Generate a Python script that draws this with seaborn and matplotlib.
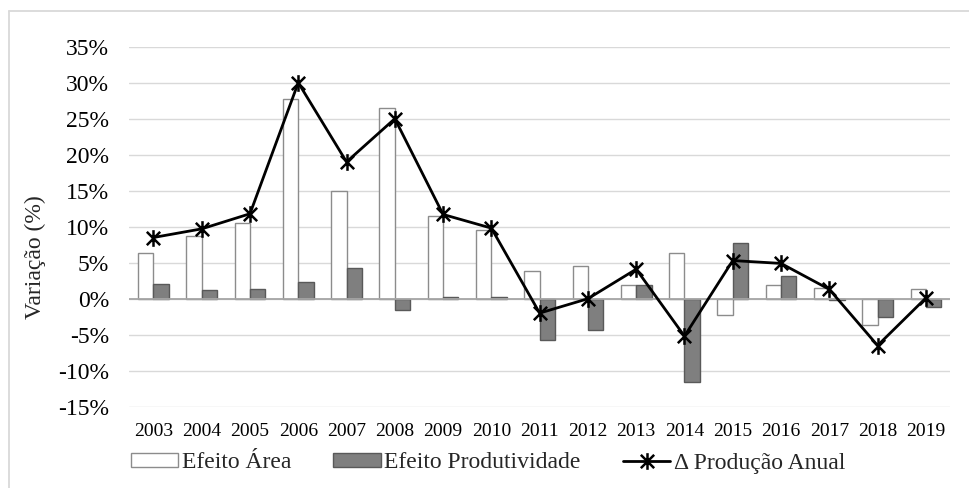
import numpy as np
import pandas as pd
import matplotlib
matplotlib.use("Agg")
import matplotlib.pyplot as plt
from matplotlib.path import Path
from matplotlib.patches import Patch
from matplotlib.lines import Line2D
import seaborn as sns

# Annual decomposition of production change (%)
years = [str(y) for y in range(2003, 2020)]
efeito_area = [6.4, 8.7, 10.5, 27.8, 14.9, 26.5, 11.5, 9.5, 3.9, 4.5, 1.9, 6.3, -2.3, 1.9, 1.5, -3.7, 1.3]
efeito_prod = [2.1, 1.2, 1.3, 2.3, 4.2, -1.5, 0.2, 0.2, -5.8, -4.4, 1.9, -11.5, 7.7, 3.1, -0.2, -2.6, -1.2]
delta_producao = [8.5, 9.7, 11.8, 30.0, 19.0, 25.0, 11.7, 9.8, -2.0, 0.0, 4.1, -5.2, 5.3, 4.9, 1.3, -6.5, 0.1]

lab_area = "Efeito Área"
lab_prod = "Efeito Produtividade"
lab_delta = "Δ Produção Anual"
y_ticks = [-15, -10, -5, 0, 5, 10, 15, 20, 25, 30, 35]

sns.set_theme(style="white")
plt.rcParams["font.family"] = ["Liberation Serif", "DejaVu Serif"]

bars = pd.DataFrame({
    "ano": years * 2,
    "valor": efeito_area + efeito_prod,
    "efeito": [lab_area] * len(years) + [lab_prod] * len(years),
})

fig = plt.figure(figsize=(9.69, 4.88), dpi=100)
W, H = 969, 488
ax = fig.add_axes([129.3 / W, 1 - 406.7 / H, (950 - 129.3) / W, (406.7 - 46.7) / H])

sns.barplot(data=bars, x="ano", y="valor", hue="efeito",
            palette={lab_area: "white", lab_prod: "#7f7f7f"},
            width=0.635, gap=0, legend=False, ax=ax, zorder=2)
edge_cols = ["#8c8c8c", "#595959"]
for cont, ec in zip(ax.containers, edge_cols):
    for p in cont.patches:
        p.set_edgecolor(ec)
        p.set_linewidth(1.0)

# Asterisk marker: an X crossed by a vertical stroke
star = Path([(-1, -1), (1, 1), (-1, 1), (1, -1), (0, -1.25), (0, 1.25)],
            [Path.MOVETO, Path.LINETO, Path.MOVETO, Path.LINETO, Path.MOVETO, Path.LINETO])

sns.lineplot(x=np.arange(len(years)), y=delta_producao, ax=ax, color="black",
             linewidth=2.0, marker=star, markersize=12, markeredgewidth=1.8,
             markeredgecolor="black", sort=False, zorder=4)

ax.set_xlim(-0.5, len(years) - 0.5)
ax.set_ylim(-15, 35)
ax.set_yticks(y_ticks)
ax.set_yticklabels([f"{v}%" for v in y_ticks])
ax.yaxis.grid(True, color="#d9d9d9", linewidth=1.0)
ax.set_axisbelow(True)
ax.axhline(0, color="#a6a6a6", linewidth=1.3, zorder=3)
for s in ax.spines.values():
    s.set_visible(False)
ax.tick_params(axis="both", length=0)
ax.tick_params(axis="y", labelsize=17, pad=14.4, colors="black")
ax.tick_params(axis="x", labelsize=14, pad=12, colors="black")
ax.set_xlabel("")
ax.set_ylabel("")

fig.text(35 / W, 1 - 257 / H, "Variação (%)", rotation=90, fontsize=17,
         ha="center", va="center")

handles = [
    Patch(facecolor="white", edgecolor="#8c8c8c", linewidth=1.0, label=lab_area),
    Patch(facecolor="#7f7f7f", edgecolor="#595959", linewidth=1.0, label=lab_prod),
    Line2D([0], [0], color="black", linewidth=2.0, marker=star, markersize=12,
           markeredgewidth=1.8, label=lab_delta),
]
fig.legend(handles=handles, loc="center", bbox_to_anchor=(488 / W, 1 - 463 / H),
           ncol=3, frameon=False, fontsize=17, handlelength=2.0, handleheight=0.5,
           handletextpad=0.15, columnspacing=1.8, borderpad=0)

# Light outer frame: top and left edges of the chart area
frame_kw = dict(color="#d9d9d9", linewidth=1.3, transform=fig.transFigure)
fig.add_artist(Line2D([8.7 / W, 8.7 / W], [0, 1 - 10.7 / H], **frame_kw))
fig.add_artist(Line2D([8.7 / W, 1], [1 - 10.7 / H, 1 - 10.7 / H], **frame_kw))

fig.savefig("out.png", dpi=100)
